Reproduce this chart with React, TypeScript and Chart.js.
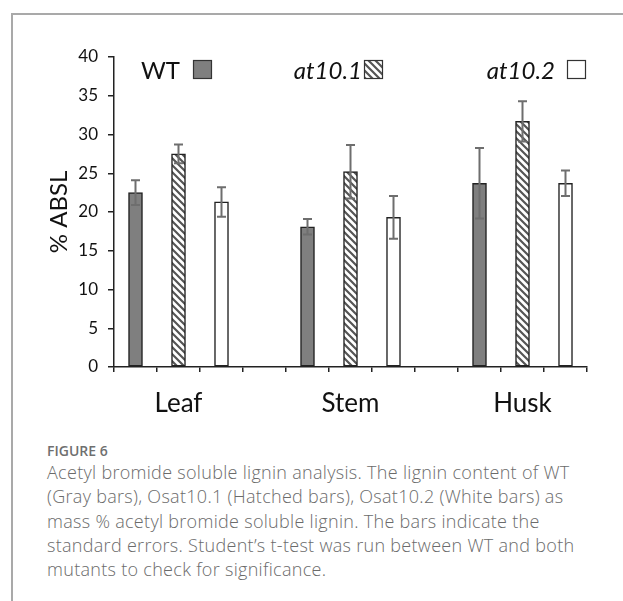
import React, { useEffect, useRef } from 'react';
import { Chart, registerables } from 'chart.js';

Chart.register(...registerables);

// ---- data ----
const categories = ['Leaf', 'Stem', 'Husk'];
const seriesNames = ['WT', 'at10.1', 'at10.2'];
const wtValues = [22.5, 18.1, 23.7];
const wtErrors = [1.6, 1.0, 4.55];
const at101Values = [27.5, 25.2, 31.7];
const at101Errors = [1.2, 3.45, 2.6];
const at102Values = [21.3, 19.3, 23.7];
const at102Errors = [1.9, 2.75, 1.65];
const yTicks = { min: 0, max: 40, step: 5 };
const yTitle = '% ABSL';
const captionTitle = 'FIGURE 6';
const captionLines = [
  'Acetyl bromide soluble lignin analysis. The lignin content of WT',
  '(Gray bars), Osat10.1 (Hatched bars), Osat10.2 (White bars) as',
  'mass % acetyl bromide soluble lignin. The bars indicate the',
  'standard errors. Student\u2019s t-test was run between WT and both',
  'mutants to check for significance.',
];

// Each category uses 3 bar slots, with an empty slot between categories.
const SLOTS_PER_CAT = 4;
const slotCount = categories.length * SLOTS_PER_CAT - 1;
const slotLabels: string[] = Array.from({ length: slotCount }, (_, s) =>
  s % SLOTS_PER_CAT === 1 ? categories[Math.floor(s / SLOTS_PER_CAT)] : ''
);
function toSlots(vals: number[], offset: number) {
  const out: (number | null)[] = Array(slotCount).fill(null);
  vals.forEach((v, i) => {
    out[i * SLOTS_PER_CAT + offset] = v;
  });
  return out;
}

function makeHatch(): CanvasPattern | string {
  const c = document.createElement('canvas');
  const n = 7;
  c.width = n;
  c.height = n;
  const g = c.getContext('2d');
  if (!g) return '#fff';
  g.fillStyle = '#ffffff';
  g.fillRect(0, 0, n, n);
  g.strokeStyle = '#555555';
  g.lineWidth = 2.2;
  g.beginPath();
  g.moveTo(-1, -1);
  g.lineTo(n + 1, n + 1);
  g.moveTo(-2, n - 2);
  g.lineTo(2, n + 2);
  g.moveTo(n - 2, -2);
  g.lineTo(n + 2, 2);
  g.stroke();
  return g.createPattern(c, 'repeat') || '#fff';
}

const errorBarPlugin = {
  id: 'errorBars',
  afterDatasetsDraw(chart: any) {
    const ctx = chart.ctx;
    const yScale = chart.scales.y;
    ctx.save();
    ctx.strokeStyle = '#6e6e6e';
    ctx.lineWidth = 2;
    chart.data.datasets.forEach((ds: any, di: number) => {
      const meta = chart.getDatasetMeta(di);
      ds.data.forEach((v: number | null, i: number) => {
        if (v == null) return;
        const e = ds.errors[i];
        const bar = meta.data[i];
        const x = bar.x;
        const yt = yScale.getPixelForValue(v + e);
        const yb = yScale.getPixelForValue(v - e);
        const cap = 4.5;
        ctx.beginPath();
        ctx.moveTo(x, yt);
        ctx.lineTo(x, yb);
        ctx.moveTo(x - cap, yt);
        ctx.lineTo(x + cap, yt);
        ctx.moveTo(x - cap, yb);
        ctx.lineTo(x + cap, yb);
        ctx.stroke();
      });
    });
    ctx.restore();
  },
};

const legendPlugin = {
  id: 'customLegend',
  afterDraw(chart: any) {
    const ctx = chart.ctx;
    const area = chart.chartArea;
    const items = [
      { boxX: 79, gap: 13, italic: false },
      { boxX: 250, gap: 2, italic: true },
      { boxX: 453, gap: 12, italic: true },
    ];
    const boxSize = 19;
    const boxTop = area.top + 3;
    ctx.save();
    items.forEach((it, i) => {
      const ds = chart.data.datasets[i];
      const bx = area.left + it.boxX;
      ctx.fillStyle = ds.backgroundColor;
      ctx.fillRect(bx, boxTop, boxSize, boxSize);
      ctx.strokeStyle = '#333';
      ctx.lineWidth = 1.2;
      ctx.strokeRect(bx + 0.5, boxTop + 0.5, boxSize - 1, boxSize - 1);
      ctx.fillStyle = '#111';
      ctx.font = (it.italic ? 'italic ' : '') + '24px Lato';
      ctx.textAlign = 'right';
      ctx.textBaseline = 'alphabetic';
      ctx.fillText(seriesNames[i], bx - it.gap, boxTop + boxSize);
    });
    ctx.restore();
  },
};

export default function App() {
  const ref = useRef<HTMLCanvasElement>(null);
  useEffect(() => {
    if (!ref.current) return;
    const hatch = makeHatch();
    const common = {
      grouped: false,
      barThickness: 14,
      borderColor: '#222222',
      borderWidth: 1.5,
      borderSkipped: false,
    };
    const chart = new Chart(ref.current, {
      type: 'bar',
      data: {
        labels: slotLabels,
        datasets: [
          { ...common, label: seriesNames[0], data: toSlots(wtValues, 0), errors: toSlots(wtErrors, 0), backgroundColor: '#7f7f7f' } as any,
          { ...common, label: seriesNames[1], data: toSlots(at101Values, 1), errors: toSlots(at101Errors, 1), backgroundColor: hatch } as any,
          { ...common, label: seriesNames[2], data: toSlots(at102Values, 2), errors: toSlots(at102Errors, 2), backgroundColor: '#ffffff' } as any,
        ],
      },
      options: {
        animation: false,
        responsive: true,
        maintainAspectRatio: false,
        layout: { padding: { left: 36, right: 36, top: 57, bottom: 10 } },
        plugins: { legend: { display: false }, tooltip: { enabled: false } },
        scales: {
          x: {
            type: 'category',
            offset: true,
            grid: { offset: true, drawOnChartArea: false, drawTicks: true, tickLength: 5, color: '#222', lineWidth: 1.5 },
            border: { display: true, color: '#222', width: 1.5 },
            ticks: { padding: 16, autoSkip: false, maxRotation: 0, color: '#111', font: { family: 'Lato', size: 26 } },
            afterFit: (s: any) => { s.height = 63; },
          },
          y: {
            min: yTicks.min,
            max: yTicks.max,
            ticks: { stepSize: yTicks.step, padding: 10, color: '#111', font: { family: 'Lato', size: 17 } },
            grid: { drawOnChartArea: false, tickLength: 6, color: '#222', lineWidth: 1.5 },
            border: { display: true, color: '#222', width: 1.5 },
            title: { display: true, text: yTitle, color: '#111', font: { family: 'Lato', size: 24 }, padding: { top: 9, bottom: 0 } },
            afterFit: (s: any) => { s.width = 78; },
          },
        },
      } as any,
      plugins: [errorBarPlugin, legendPlugin],
    });
    return () => chart.destroy();
  }, []);

  return (
    <div style={{ position: 'absolute', left: 0, top: 0, width: 623, height: 601, background: '#fff', overflow: 'hidden' }}>
      <div style={{ position: 'absolute', left: 11, top: 13, right: -5, bottom: -5, borderTop: '2px solid #a9a9a9', borderLeft: '2px solid #a9a9a9' }} />
      <div style={{ position: 'absolute', left: 0, top: 0, width: 623, height: 440 }}>
        <canvas ref={ref} />
      </div>
      <div style={{ position: 'absolute', left: 47, top: 441, fontFamily: '"Open Sans", sans-serif', fontSize: 14, lineHeight: '20px', fontWeight: 600, color: '#6f6f6f', whiteSpace: 'nowrap' }}>
        {captionTitle}
      </div>
      <div style={{ position: 'absolute', left: 47, top: 460, fontFamily: '"Open Sans", sans-serif', fontSize: 18, lineHeight: '24.25px', fontWeight: 300, letterSpacing: '0.3px', color: '#6b6b6b', whiteSpace: 'nowrap' }}>
        {captionLines.map((l, i) => (
          <div key={i}>{l}</div>
        ))}
      </div>
    </div>
  );
}
